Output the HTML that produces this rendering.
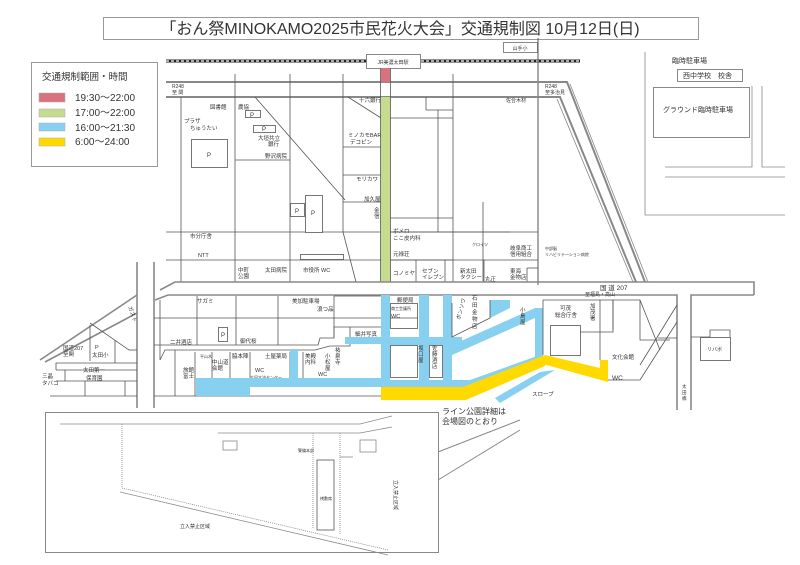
<!DOCTYPE html>
<html><head><meta charset="utf-8"><style>
html,body{margin:0;padding:0;background:#fff;}
svg{display:block;font-family:"Liberation Sans","Noto Sans CJK JP",sans-serif;}
text{fill:#333;}
</style></head><body>
<svg width="800" height="565" viewBox="0 0 800 565" xmlns="http://www.w3.org/2000/svg">
<rect width="800" height="565" fill="#fff"/>
<rect x="103.5" y="17.5" width="595" height="22" fill="#fff" stroke="#999"/>
<text x="400" y="34" font-size="16" text-anchor="middle" fill="#222">「おん祭MINOKAMO2025市民花火大会」交通規制図  10月12日(日)</text>
<rect x="31.5" y="62.5" width="126" height="104" fill="#fff" stroke="#999"/>
<text x="42" y="80" font-size="9.5" fill="#222">交通規制範囲・時間</text>
<rect x="39" y="93" width="26" height="9" fill="#d9727f" stroke="#aaa" stroke-width=".5"/>
<rect x="39" y="109" width="26" height="8" fill="#c5dc8e" stroke="#aaa" stroke-width=".5"/>
<rect x="39" y="123" width="26" height="8" fill="#87d0ef" stroke="#aaa" stroke-width=".5"/>
<rect x="39" y="138" width="26" height="8" fill="#ffd900" stroke="#aaa" stroke-width=".5"/>
<g font-size="10" fill="#333"><text x="75" y="101">19:30〜22:00</text><text x="75" y="116">17:00〜22:00</text><text x="75" y="131">16:00〜21:30</text><text x="75" y="145">6:00〜24:00</text></g>
<line x1="166" y1="61" x2="580" y2="61" stroke="#222" stroke-width="3"/>
<line x1="166" y1="61" x2="580" y2="61" stroke="#fff" stroke-width="1.2" stroke-dasharray="3,2"/>
<rect x="366.5" y="54.5" width="54" height="14" fill="#fff" stroke="#888"/>
<text x="393" y="64" font-size="5" text-anchor="middle">JR美濃太田駅</text>
<rect x="503.5" y="42.5" width="34" height="10" fill="#fff" stroke="#888"/>
<text x="520" y="50" font-size="5" text-anchor="middle">山手小</text>
<line x1="538" y1="38" x2="538" y2="285" stroke="#555"/>
<g stroke="#888" stroke-width="2" fill="none">
<polyline points="166,82 567,82 645,282"/>
<polyline points="166,97 560,97 636,282"/>
</g>
<g stroke="#888" fill="none" stroke-width="0.8">
<line x1="570" y1="84" x2="648" y2="282"/><line x1="557" y1="99" x2="633" y2="282"/>
</g>
<text x="172" y="88" font-size="5">R248</text><text x="172" y="94" font-size="5">至 関</text>
<text x="545" y="88" font-size="5">R248</text><text x="545" y="94" font-size="5">至多治見</text>
<text x="506" y="102" font-size="5">佐合木材</text>
<g stroke="#555" fill="none" stroke-width="0.8">
<line x1="181" y1="97" x2="181" y2="282"/>
<line x1="235" y1="74" x2="235" y2="282"/>
<line x1="290" y1="74" x2="290" y2="282"/>
<line x1="343" y1="74" x2="343" y2="232"/>
<line x1="453" y1="74" x2="453" y2="282"/>
<line x1="166" y1="232" x2="538" y2="232"/>
<line x1="166" y1="260" x2="453" y2="260"/>
<line x1="255" y1="97" x2="345" y2="200"/>
<line x1="348" y1="97" x2="381" y2="118"/>
<line x1="343" y1="232" x2="356" y2="282"/>
<line x1="235" y1="160" x2="290" y2="160"/>
<line x1="343" y1="147" x2="381" y2="147"/>
<line x1="343" y1="175" x2="381" y2="175"/>
<line x1="343" y1="202" x2="381" y2="202"/>
<line x1="426" y1="97" x2="426" y2="110"/><line x1="426" y1="110" x2="453" y2="110"/>
<line x1="438" y1="110" x2="438" y2="232"/><line x1="390" y1="118" x2="453" y2="118"/>
<line x1="390" y1="218" x2="453" y2="218"/><line x1="390" y1="232" x2="510" y2="232"/>
<line x1="483" y1="202" x2="483" y2="282"/>
<line x1="390" y1="260" x2="538" y2="260"/>
<line x1="416" y1="260" x2="416" y2="282"/><line x1="445" y1="260" x2="445" y2="282"/>
<line x1="484" y1="260" x2="484" y2="282"/><line x1="527" y1="268" x2="527" y2="282"/>
<line x1="527" y1="268" x2="538" y2="268"/>
</g>
<rect x="191.5" y="139.5" width="36" height="28" fill="#fff" stroke="#555" stroke-width=".8"/><text x="207" y="157" font-size="6">P</text>
<rect x="245.5" y="110.5" width="15" height="7" fill="#fff" stroke="#555" stroke-width=".8"/><text x="250" y="117" font-size="6">P</text>
<rect x="253.5" y="125.5" width="22" height="7" fill="#fff" stroke="#555" stroke-width=".8"/><text x="262" y="131" font-size="6">P</text>
<rect x="290.5" y="203.5" width="14" height="13" fill="#fff" stroke="#555" stroke-width=".8"/><text x="295" y="213" font-size="6">P</text>
<rect x="305.5" y="195.5" width="17" height="37" fill="#fff" stroke="#555" stroke-width=".8"/><text x="311" y="215" font-size="6">P</text>
<rect x="300.5" y="254.5" width="43" height="5" fill="#fff" stroke="#555" stroke-width=".8"/>
<g font-size="5.5">
<text x="210" y="109">図書館</text><text x="238" y="109">農協</text><text x="184" y="123">プラザ</text><text x="190" y="130">ちゅうたい</text>
<text x="258" y="140">大垣共立</text><text x="268" y="146">銀行</text><text x="265" y="158">野沢病院</text>
<text x="359" y="102">十六銀行</text><text x="348" y="137">ミノカモBAR</text><text x="350" y="144">デコピン</text>
<text x="356" y="181">モリカワ</text><text x="364" y="201">加久屋</text><text x="374" y="212">金</text><text x="374" y="218">信</text>
<text x="190" y="238">市分庁舎</text><text x="198" y="257">NTT</text>
<text x="238" y="272">中町</text><text x="238" y="278">公園</text><text x="265" y="272">太田病院</text><text x="303" y="272">市役所 WC</text>
<text x="393" y="233">ボメロ</text><text x="393" y="240">ここ皮内科</text><text x="393" y="256">元禄荘</text><text x="393" y="275">コノミヤ</text>
<text x="422" y="273">セブン</text><text x="422" y="279">イレブン</text><text x="460" y="273">新太田</text><text x="460" y="279">タクシー</text>
<text x="485" y="281">丸正</text><text x="510" y="273">東海</text><text x="510" y="279">金物店</text>
<text x="510" y="250">岐阜商工</text><text x="510" y="256">信用組合</text><text x="545" y="250" font-size="4">中部脳</text><text x="545" y="256" font-size="4">リハビリテーション病院</text>
<text x="472" y="246" font-size="4">クロイツ</text>
</g>
<rect x="381" y="68" width="9" height="14" fill="#d9727f"/>
<rect x="381" y="97" width="9" height="185" fill="#c5dc8e"/>
<line x1="380.5" y1="68" x2="380.5" y2="282" stroke="#555" stroke-width=".8"/><line x1="390.5" y1="68" x2="390.5" y2="282" stroke="#555" stroke-width=".8"/>
<g stroke="#888" stroke-width="1.6" fill="none">
<polyline points="160,290 175,282 754,282 754,295"/>
<polyline points="155,300 168,295 677,295 677,410"/>
<polyline points="691,410 691,295 754,295"/>
<line x1="137" y1="262" x2="137" y2="408"/><line x1="154" y1="262" x2="154" y2="408"/>
<line x1="40" y1="360" x2="137" y2="295"/><line x1="45" y1="362" x2="137" y2="313"/>
</g>
<text x="600" y="290" font-size="6.5">国 道 207</text><text x="585" y="296" font-size="5">至福島・高山</text>
<g stroke="#555" fill="none" stroke-width="0.8">
<polyline points="56,370 56,363 137,363"/>
<line x1="56" y1="370" x2="137" y2="370"/>
<line x1="56" y1="381" x2="137" y2="381"/>
<line x1="90" y1="323" x2="129" y2="350"/><line x1="90" y1="325" x2="90" y2="361"/>
<line x1="115" y1="340" x2="115" y2="363"/><line x1="129" y1="350" x2="137" y2="350"/>
<line x1="65" y1="370" x2="65" y2="381"/><line x1="85" y1="381" x2="85" y2="396"/><line x1="125" y1="381" x2="125" y2="396"/>
<line x1="50" y1="396" x2="137" y2="396"/>
<line x1="160" y1="300" x2="160" y2="360"/>
<line x1="197" y1="296" x2="197" y2="345"/><line x1="236" y1="296" x2="236" y2="345"/>
<line x1="278" y1="296" x2="278" y2="345"/><line x1="334" y1="296" x2="334" y2="338"/>
<line x1="154" y1="318" x2="334" y2="318"/>
<polyline points="154,345 318,345 320,338 334,338 334,327 381,327"/>
<polyline points="160,360 165,350 315,350 330,346 350,346 350,327"/>
<line x1="175" y1="350" x2="175" y2="396"/><line x1="195" y1="352" x2="195" y2="396"/>
<line x1="212" y1="352" x2="212" y2="382"/><line x1="230" y1="352" x2="230" y2="382"/>
<line x1="250" y1="352" x2="250" y2="382"/><line x1="290" y1="352" x2="290" y2="382"/>
<line x1="303" y1="352" x2="303" y2="382"/>
<line x1="154" y1="396" x2="381" y2="396"/>
<line x1="334" y1="296" x2="381" y2="296"/>
<line x1="334" y1="318" x2="381" y2="318"/>
</g>
<rect x="218.5" y="327.5" width="9" height="14" fill="#fff" stroke="#555" stroke-width=".8"/><text x="221" y="337" font-size="6">P</text>
<g font-size="5.5">
<text x="128" y="307" transform="rotate(70 128 307)">ガスト</text>
<text x="63" y="350">国道207</text><text x="63" y="356">至関</text><text x="95" y="349">P</text><text x="92" y="357">太田小</text>
<text x="83" y="372">太田第一</text><text x="86" y="380">保育園</text><text x="42" y="378">三晶</text><text x="42" y="385">タバコ</text>
<text x="197" y="303">サガミ</text><text x="292" y="303">美加駐車場</text><text x="317" y="311">浪つ品</text>
<text x="170" y="344">二井酒店</text><text x="240" y="343">御代桜</text><text x="355" y="336">細井写真</text>
<text x="200" y="358" font-size="4">平山木</text><text x="212" y="364">中山道</text><text x="212" y="370">会館</text><text x="232" y="358">脇本陣</text>
<text x="183" y="372">旅館</text><text x="183" y="378">富士</text><text x="265" y="358">土屋薬局</text>
<text x="255" y="372">WC</text><text x="250" y="379" font-size="4">太田文流センター</text>
<text x="305" y="358">美殿</text><text x="305" y="364">内科</text><text x="325" y="358">小</text><text x="325" y="364">松</text><text x="325" y="370">屋</text>
<text x="318" y="376">WC</text><text x="335" y="352">祐</text><text x="335" y="358">泉</text><text x="335" y="364">寺</text>
</g>
<g fill="#87d0ef">
<rect x="381" y="295" width="9" height="92"/>
<rect x="419" y="295" width="10" height="92"/>
<rect x="443" y="295" width="9" height="92"/>
<rect x="535" y="308" width="8" height="52"/>
<rect x="390" y="337" width="72" height="8"/>
<rect x="345" y="337" width="36" height="7"/>
<rect x="196" y="378" width="185" height="9"/>
<polygon points="196,378 250,378 250,396 196,396"/>
<polygon points="452,345 535,308 535,318 452,355"/>
<polygon points="490,300 510,300 510,308 490,318"/>
<polygon points="390,380 470,380 540,355 543,362 470,388 390,388"/>
<polygon points="495,398 540,372 555,370 500,403"/>
<rect x="290" y="350" width="8" height="36"/>
</g>
<g stroke="#555" fill="none" stroke-width="0.8">
<rect x="390.5" y="303.5" width="27" height="25"/><line x1="390" y1="318" x2="418" y2="318"/>
<rect x="390.5" y="345.5" width="27" height="32"/>
<rect x="429.5" y="345.5" width="13" height="32"/>
<polyline points="452,303 452,337 490,318 490,300"/>
<line x1="543" y1="300" x2="543" y2="355"/>
<rect x="550.5" y="325.5" width="30" height="30"/>
<polyline points="543,300 613,300 613,332 580,332"/>
<line x1="613" y1="300" x2="613" y2="330"/><polyline points="613,300 640,300 640,340 670,340"/>
<line x1="600" y1="300" x2="600" y2="360"/>
<polyline points="640,300 660,350"/>
<polyline points="608,380 640,380 677,322"/><polyline points="640,365 677,305"/>
<line x1="658" y1="338" x2="677" y2="338"/>
<polyline points="691,337 710,337 710,330 730,330 730,337"/>
</g>
<rect x="700.5" y="337.5" width="30" height="23" fill="#fff" stroke="#555" stroke-width=".8"/>
<text x="707" y="351" font-size="5">リバボ</text>
<g fill="#ffd900">
<polygon points="381,387 463,387 545,355 545,366 466,400 381,400"/>
<polygon points="545,355 600,368 600,360 608,360 608,382 543,364"/>
</g>
<g font-size="5.5">
<text x="397" y="302">郵便局</text><text x="391" y="310" font-size="4">商工会議所</text><text x="391" y="318">WC</text>
<text x="418" y="350">坂</text><text x="418" y="356">口</text><text x="418" y="362">屋</text>
<text x="432" y="350">佐</text><text x="432" y="356">藤</text><text x="432" y="362">酒</text><text x="432" y="368">店</text>
<text x="460" y="320" transform="rotate(-75 460 320)">ボンソワ</text>
<text x="472" y="300">石</text><text x="472" y="307">田</text><text x="472" y="314">金</text><text x="472" y="321">物</text><text x="472" y="328">店</text>
<text x="520" y="312">小</text><text x="520" y="318">島</text><text x="520" y="324">屋</text>
<text x="560" y="310">可茂</text><text x="555" y="317">総合庁舎</text><text x="590" y="308">加</text><text x="590" y="314">茂</text><text x="590" y="320">署</text>
<text x="612" y="359">文化会館</text><text x="612" y="380" font-size="6.5">WC</text>
<text x="532" y="396">スロープ</text><text x="682" y="388" font-size="4.5">太</text><text x="682" y="394" font-size="4.5">田</text><text x="682" y="400" font-size="4.5">橋</text>
</g>
<text x="442" y="414" font-size="8">ライン公園詳細は</text><text x="442" y="424" font-size="8">会場図のとおり</text>
<line x1="438" y1="452" x2="520" y2="420" stroke="#888"/><line x1="438" y1="480" x2="520" y2="430" stroke="#888"/>
<g stroke="#888" fill="none" stroke-width="0.8">
<polyline points="645,52 645,215 785,215"/>
<line x1="665" y1="177" x2="785" y2="177"/>
<polyline points="752,86 752,167 665,167"/><polyline points="762,86 762,167 785,167"/>
</g>
<text x="672" y="63" font-size="7">臨時駐車場</text>
<rect x="677.5" y="69.5" width="65" height="12" fill="#fff" stroke="#888"/><text x="683" y="78" font-size="7">西中学校　校舎</text>
<rect x="653.5" y="87.5" width="96" height="50" fill="#fff" stroke="#888"/><text x="663" y="112" font-size="7">グラウンド臨時駐車場</text>
<rect x="45.5" y="412.5" width="393" height="140" fill="#fff" stroke="#888"/>
<g stroke="#888" fill="none" stroke-width="0.8">
<polyline points="60,424 360,424 392,416"/>
<polyline points="218,433 360,433 392,427"/>
<line x1="122" y1="424" x2="122" y2="488" stroke-dasharray="1,1"/>
<line x1="122" y1="488" x2="388" y2="550" stroke-dasharray="1,1"/>
<line x1="120" y1="492" x2="388" y2="555"/>
<line x1="313" y1="433" x2="313" y2="528" stroke-dasharray="1,1"/>
<line x1="340" y1="433" x2="340" y2="535" stroke-dasharray="1,1"/>
<rect x="317" y="460" width="17" height="70" stroke="#555"/>
<polyline points="340,457 353,457"/>
<rect x="223" y="441" width="14" height="9"/><rect x="360" y="440" width="16" height="12"/>
</g>
<text x="320" y="500" font-size="4">桟敷席</text>
<text x="298" y="452" font-size="4">警備本部</text>
<text x="180" y="528" font-size="5">立入禁止区域</text>
<text x="394" y="480" font-size="5" transform="rotate(90 394 480)">立入禁止区域</text>
</svg>
</body></html>
